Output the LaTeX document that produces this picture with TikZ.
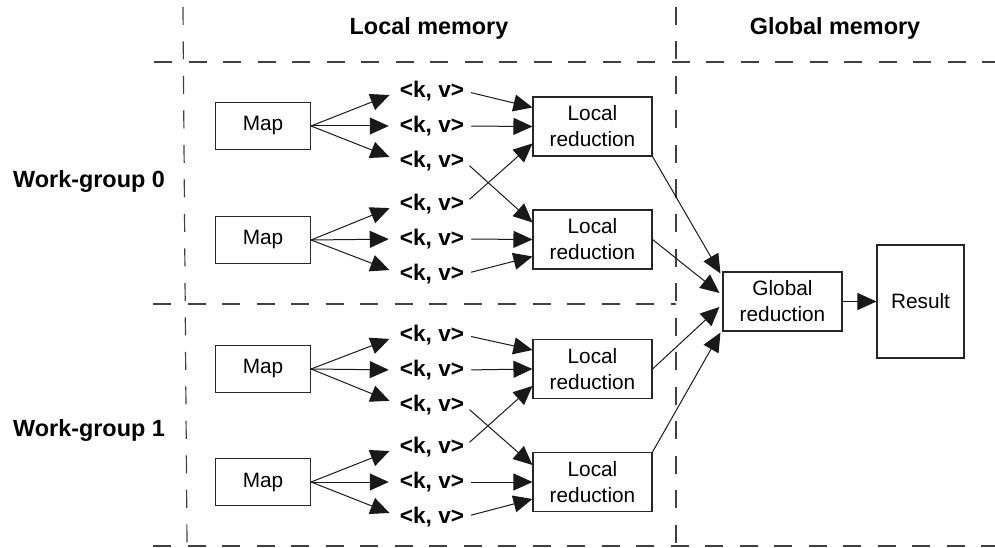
\documentclass[tikz,border=0pt]{standalone}
\usepackage{fontspec}
\setmainfont{Liberation Sans}
\usetikzlibrary{arrows.meta,calc}
\begin{document}
\begin{tikzpicture}[x=1pt,y=-1pt,
  box/.style={draw=black!85, line width=1.1pt, minimum width=119pt, minimum height=59pt, align=center, font=\fontsize{20.8}{26}\selectfont, inner sep=0pt},
  mapbox/.style={box, minimum width=95pt, minimum height=47pt},
  kv/.style={font=\bfseries\fontsize{22.6}{26}\selectfont, inner sep=0pt},
  hdr/.style={font=\bfseries\fontsize{23.4}{27}\selectfont, inner sep=0pt},
  sep/.style={draw=black!75, line width=1.2pt, dash pattern=on 18pt off 16.5pt},
  arr/.style={line width=1pt, draw=black!90, -{Triangle[length=19pt,width=17pt]}},
  kvin/.style={arr, shorten >=11pt},
  kvout/.style={arr, shorten <=7pt},
]
\useasboundingbox (0,0) rectangle (995,548);

% separators
\draw[sep] (154,62) -- (995,62);
\draw[sep] (153,304) -- (676,304);
\draw[sep] (153,546) -- (995,546);
\draw[sep] (183,7) -- (187,545);
\draw[sep] (676,7) -- (676,545);

% headers
\node[hdr, anchor=base] (hlocal) at (429,35) {Local memory};
\node[hdr, anchor=base] (hglobal) at (835,35) {Global memory};
\node[hdr, anchor=base west] (wg0) at (13,188) {Work-group 0};
\node[hdr, anchor=base west] (wg1) at (13,436) {Work-group 1};

% maps
\node[mapbox] (m1) at (263,126) {Map};
\node[mapbox] (m2) at (263,240) {Map};
\node[mapbox] (m3) at (263,369) {Map};
\node[mapbox] (m4) at (263,482) {Map};

% kv labels
\foreach \m/\y in {1/126,2/239,3/370,4/482}{
  \node[kv] (k\m a) at (432,\y-35) {<k, v>};
  \node[kv] (k\m b) at (432,\y) {<k, v>};
  \node[kv] (k\m c) at (432,\y+35) {<k, v>};
  \foreach \s in {a,b,c}{
    \draw[kvin] (m\m.east) -- (k\m\s.west);
  }
}

% local reductions
\node[box] (lr1) at (592.5,126.5) {Local\\reduction};
\node[box] (lr2) at (592.5,239.5) {Local\\reduction};
\node[box] (lr3) at (592.5,369) {Local\\reduction};
\node[box] (lr4) at (592.5,482) {Local\\reduction};

% kv -> local reductions
\draw[kvout] (k1a.east) -- ($(lr1.west)+(0,-19)$);
\draw[kvout] (k1b.east) -- (lr1.west);
\draw[kvout] (k1c.east) -- ($(lr2.west)+(0,-17)$);
\draw[kvout] (k2a.east) -- ($(lr1.west)+(0,17)$);
\draw[kvout] (k2b.east) -- (lr2.west);
\draw[kvout] (k2c.east) -- ($(lr2.west)+(0,17)$);
\draw[kvout] (k3a.east) -- ($(lr3.west)+(0,-19)$);
\draw[kvout] (k3b.east) -- (lr3.west);
\draw[kvout] (k3c.east) -- ($(lr4.west)+(0,-17)$);
\draw[kvout] (k4a.east) -- ($(lr3.west)+(0,17)$);
\draw[kvout] (k4b.east) -- (lr4.west);
\draw[kvout] (k4c.east) -- ($(lr4.west)+(0,17)$);

% global reduction and result
\node[box] (gr) at (782.5,301.5) {Global\\reduction};
\node[box, minimum width=87pt, minimum height=113pt] (res) at (920.5,301.5) {Result};

\draw[arr] (lr1.south east) -- ($(gr.north west)+(-2,2)$);
\draw[arr] (lr2.east) -- ($(gr.west)+(-3,-8.5)$);
\draw[arr] (lr3.east) -- ($(gr.west)+(-3,5.5)$);
\draw[arr] (lr4.north east) -- ($(gr.south west)+(-2,1)$);
\draw[arr] (gr.east) -- (res.west);
\end{tikzpicture}
\end{document}
